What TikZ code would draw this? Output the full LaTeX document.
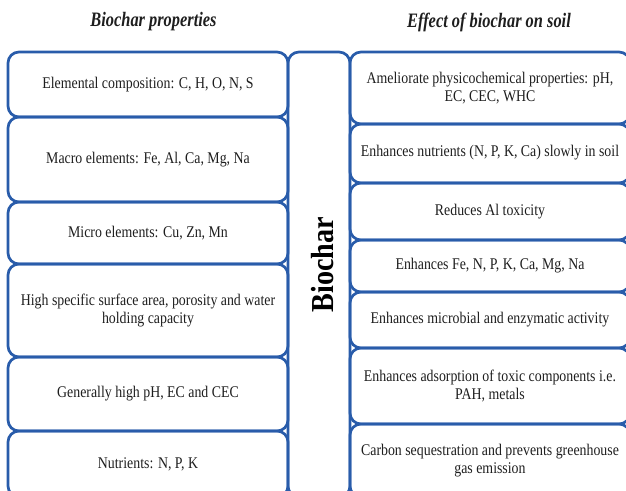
\documentclass[tikz,border=0pt]{standalone}
\usepackage{fontspec}
\setmainfont{Liberation Serif}
\newfontfamily\bodyfont[FakeStretch=0.85]{Liberation Serif}
\newfontfamily\titlefont[FakeStretch=0.8]{Liberation Serif}
\newfontfamily\bigfont[FakeStretch=0.88]{Liberation Serif}
\definecolor{boxblue}{RGB}{41,92,170}
\definecolor{txt}{RGB}{30,30,30}
\begin{document}
\begin{tikzpicture}[x=1pt,y=-1pt,
  pbox/.style={draw=boxblue, line width=2.7pt, rounded corners=11pt, inner sep=0pt,
    align=center, font=\bodyfont\fontsize{16.3}{18.5}\selectfont, text=txt, minimum width=280pt},
  ttl/.style={font=\titlefont\fontsize{20.5}{22}\selectfont\bfseries\itshape, text=txt}]
\useasboundingbox (0,0) rectangle (626,490);
\clip (0,0) rectangle (626,490);
% titles
\node[ttl] (t1) at (153.5,22) {Biochar properties};
\node[ttl] (t2) at (489,22) {Effect of biochar on soil};
% left column
\node[pbox, minimum height=65pt] (l1) at (148,84.5) {Elemental composition: C, H, O, N, S};
\node[pbox, minimum height=85pt] (l2) at (148,159.5) {\raisebox{2pt}{Macro elements: Fe, Al, Ca, Mg, Na}};
\node[pbox, minimum height=62pt] (l3) at (148,233) {Micro elements: Cu, Zn, Mn};
\node[pbox, minimum height=93pt] (l4) at (148,310.5) {High specific surface area, porosity and water\\holding capacity};
\node[pbox, minimum height=74pt] (l5) at (148,394) {Generally high pH, EC and CEC};
\node[pbox, minimum height=66pt] (l6) at (148,464) {Nutrients: N, P, K};
% middle
\node[pbox, minimum width=62pt, minimum height=445pt] (bc) at (319,274.5) {};
\node[font=\bigfont\fontsize{32}{34}\selectfont\bfseries, text=black, rotate=90, inner sep=0pt] (bctext) at (323,264.5) {Biochar};
% right column
\node[pbox, minimum height=72pt] (r1) at (490,88) {Ameliorate physicochemical properties: pH,\\EC, CEC, WHC};
\node[pbox, minimum height=59pt] (r2) at (490,153.5) {\raisebox{6pt}{Enhances nutrients (N, P, K, Ca) slowly in soil}};
\node[pbox, minimum height=57pt] (r3) at (490,211.5) {Reduces Al toxicity};
\node[pbox, minimum height=52pt] (r4) at (490,266) {Enhances Fe, N, P, K, Ca, Mg, Na};
\node[pbox, minimum height=56pt] (r5) at (490,320) {Enhances microbial and enzymatic activity};
\node[pbox, minimum height=76pt] (r6) at (490,386) {Enhances adsorption of toxic components i.e.\\PAH, metals};
\node[pbox, minimum height=73pt] (r7) at (490,460.5) {Carbon sequestration and prevents greenhouse\\gas emission};
\end{tikzpicture}
\end{document}
